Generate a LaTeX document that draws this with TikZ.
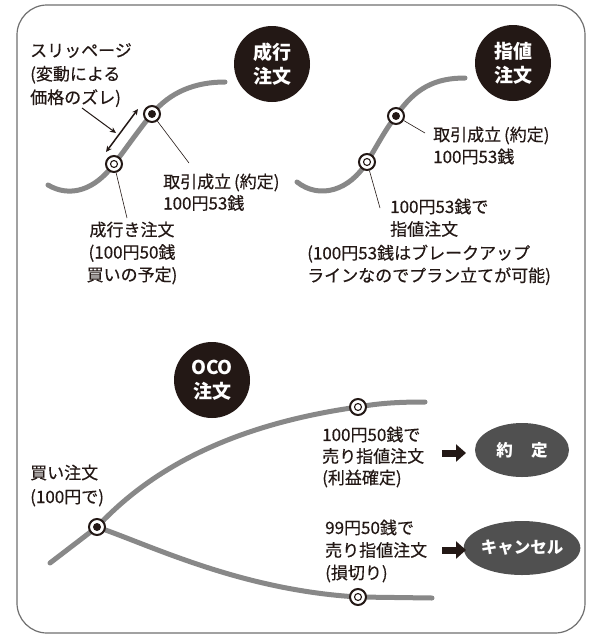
\documentclass[tikz,border=0pt]{standalone}
\usepackage{fontspec}
\setmainfont{Noto Sans CJK JP}[UprightFeatures={FakeBold=0.4}]
\usetikzlibrary{arrows.meta,shapes.geometric}
\definecolor{ink}{HTML}{231815}
\definecolor{curvegray}{HTML}{888888}
\definecolor{ovalgray}{HTML}{505050}
\definecolor{framegray}{HTML}{707070}
\begin{document}
\begin{tikzpicture}[x=1pt,y=-1pt,
  curve/.style={draw=curvegray,line width=5pt,line cap=round},
  badge/.style={circle,fill=ink,text=white,minimum size=76pt,inner sep=0pt,align=center,font=\fontsize{19}{24}\selectfont\bfseries},
  oval/.style={ellipse,fill=ovalgray,text=white,minimum width=94pt,minimum height=54pt,inner sep=0pt,font=\fontsize{16.5}{20}\selectfont\bfseries},
  mkbase/.style={circle,draw=ink,fill=white,line width=2pt,minimum size=16pt,inner sep=0pt},
  mkopen/.style={mkbase,path picture={\draw[ink,line width=1.1pt] (path picture bounding box.center) circle (3.5pt);}},
  mkfill/.style={mkbase,path picture={\fill[ink] (path picture bounding box.center) circle (4pt);}},
  lbl/.style={inner sep=0pt,text=ink,font=\fontsize{17}{22.5}\selectfont},
  leader/.style={draw=ink,line width=0.6pt},
  blockarrow/.style={draw=ink,line width=7pt,-{Triangle[length=10pt,width=17pt]}},
]
\useasboundingbox (0,0) rectangle (600,641);
\fill[white] (0,0) rectangle (600,641);
% frame
\draw[framegray,line width=1.2pt,rounded corners=30pt] (17,5) rectangle (585,633);

% ---------- top-left: market order ----------
\node[badge] (bmkt) at (272,64) {成行\\注文};
\coordinate (ta0) at (48,185);
\coordinate (ta3) at (225,82);
\coordinate (ta1c) at (114,164);
\coordinate (ta2c) at (152,114);
\draw[curve] (ta0) .. controls (70,198) and (95,190) .. (ta1c)
  .. controls (125,150) and (140,128) .. (ta2c)
  .. controls (170,92) and (195,82) .. (ta3);
\node[mkopen] (ta1) at (ta1c) {};
\node[mkfill] (ta2) at (ta2c) {};

\node[lbl,anchor=north west,align=left,font=\fontsize{17}{23.5}\selectfont] (slip) at (30,43) {スリッページ\\(変動による\\価格のズレ)};
\coordinate (sa) at (138,109);
\coordinate (sb) at (106,152);
\draw[ink,line width=1.5pt,{Stealth[length=6pt,width=5.5pt]}-{Stealth[length=6pt,width=5.5pt]}] (sa) -- (sb);
\coordinate (pa) at (82,108);
\coordinate (pb) at (116,133);
\draw[ink,line width=1pt,-{Stealth[length=6pt,width=5.5pt]}] (pa) -- (pb);

\node[lbl,anchor=north west,align=left,font=\fontsize{17}{21.5}\selectfont] (la1) at (163,173.5) {取引成立\,(約定)\\100円53銭};
\coordinate (la1p) at (189,163);
\draw[leader] (ta2) -- (la1p);
\node[lbl,anchor=north,align=center] (la2) at (132,221.5) {成行き注文\\(100円50銭\\買いの予定)};
\coordinate (la2p) at (127,218);
\draw[leader] (ta1) -- (la2p);

% ---------- top-right: limit order ----------
\node[badge] (blim) at (513,63) {指値\\注文};
\coordinate (tb0) at (297,182);
\coordinate (tb3) at (465,78);
\coordinate (tb1c) at (367,162);
\coordinate (tb2c) at (396,116);
\draw[curve] (tb0) .. controls (320,200) and (350,190) .. (tb1c)
  .. controls (377,146) and (385,130) .. (tb2c)
  .. controls (415,88) and (435,78) .. (tb3);
\node[mkopen] (tb1) at (tb1c) {};
\node[mkfill] (tb2) at (tb2c) {};

\node[lbl,anchor=north west,align=left,font=\fontsize{17}{22}\selectfont] (lb1) at (433,126.5) {取引成立\,(約定)\\100円53銭};
\coordinate (lb1p) at (425,133);
\draw[leader] (tb2) -- (lb1p);
\node[lbl,anchor=north west,align=left] (lb2) at (390,198.5) {100円53銭で\\指値注文};
\coordinate (lb2p) at (380,208);
\draw[leader] (tb1) -- (lb2p);
\node[lbl,anchor=north west,align=left] (lb3) at (307,244.5) {(100円53銭はブレークアップ\\ラインなのでプラン立てが可能)};

% ---------- bottom: OCO ----------
\node[badge] (boco) at (212,380) {OCO\\注文};
\coordinate (c0) at (50,563);
\coordinate (cbuyc) at (97,527);
\coordinate (cupc) at (358,407);
\coordinate (cdnc) at (358,597);
\coordinate (cupe) at (425,402);
\coordinate (cdne) at (432,598);
\draw[curve] (c0) -- (cbuyc);
\draw[curve] (cbuyc) .. controls (150,470) and (230,425) .. (cupc)
  .. controls (380,403) and (400,402) .. (cupe);
\draw[curve] (cbuyc) .. controls (150,545) and (240,590) .. (cdnc) -- (cdne);
\node[mkfill] (cbuy) at (cbuyc) {};
\node[mkopen] (cup) at (cupc) {};
\node[mkopen] (cdn) at (cdnc) {};

\node[lbl,anchor=north west,align=left,font=\fontsize{17}{24}\selectfont] (lbuy) at (30,464.5) {買い注文\\(100円で)};
\node[lbl,anchor=north west,align=left,font=\fontsize{17}{21.5}\selectfont] (lup) at (322,426.5) {100円50銭で\\売り指値注文\\(利益確定)};
\node[lbl,anchor=north west,align=left,font=\fontsize{17}{22.5}\selectfont] (ldn) at (325,519.5) {99円50銭で\\売り指値注文\\(損切り)};

\node[oval] (ofix) at (522,450) {約\hspace{1.1em}定};
\node[oval] (ocan) at (522,548) {キャンセル};
\coordinate (a1s) at (442,453);
\coordinate (a1e) at (466,453);
\coordinate (a2s) at (442,550);
\coordinate (a2e) at (466,550);
\draw[blockarrow] (a1s) -- (a1e);
\draw[blockarrow] (a2s) -- (a2e);
\end{tikzpicture}
\end{document}
